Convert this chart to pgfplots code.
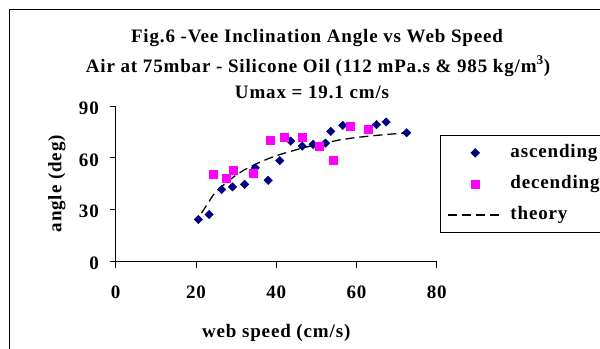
\documentclass[border=0pt]{standalone}
\usepackage{fontspec}
\setmainfont[LetterSpace=4.5]{Liberation Serif}
\usepackage{pgfplots}
\pgfplotsset{compat=1.18}
\definecolor{navy}{RGB}{0,0,128}
\definecolor{mag}{RGB}{255,0,255}
\begin{document}
\begin{tikzpicture}[x=1bp,y=1bp]
\useasboundingbox (0,0) rectangle (600,348);
\fill[white] (0,0) rectangle (600,348);
\draw[line width=1bp] (9,-20) -- (9,338) -- (620,338);
\begin{axis}[
  at={(115.7bp,86.5bp)}, anchor=south west,
  scale only axis, width=321bp, height=155.5bp,
  xmin=0, xmax=80, ymin=0, ymax=90,
  xtick={0,20,40,60,80}, ytick={0,30,60,90},
  axis x line*=bottom, axis y line*=left,
  axis line style={black, line width=0.8bp},
  tick align=outside, major tick length=6bp,
  tick style={black, line width=0.8bp},
  /pgf/number format/assume math mode=true,
  ticklabel style={font=\fontsize{19bp}{23bp}\selectfont\bfseries, inner sep=0pt},
  xticklabel style={anchor=north, yshift=-18bp},
  yticklabel style={anchor=east, xshift=-10.7bp, yshift=-2bp},
  xlabel={web speed (cm/s)},
  ylabel={angle (deg)},
  label style={font=\fontsize{19bp}{23bp}\selectfont\bfseries},
  xlabel style={at={(axis description cs:0.5,-0.462)}, anchor=center},
  ylabel style={at={(axis description cs:-0.183,0.5)}, anchor=center},
  legend cell align=left,
  legend image code/.code={\draw[mark repeat=2,mark phase=2,#1] plot coordinates {(0bp,0bp) (27.5bp,0bp) (55bp,0bp)};},
  legend style={at={(axis description cs:1.0103,0.8135)}, anchor=north west,
    draw=black, line width=0.8bp, fill=white, inner xsep=6.7bp, inner ysep=8.5bp,
    row sep=13bp, column sep=7bp,
    font=\fontsize{19bp}{23bp}\selectfont\bfseries,
    nodes={inner sep=0pt, text height=14bp, text depth=4bp, text width=110bp, align=left}},
]
\addplot[only marks, mark=square*, mark size=3bp, mark options={rotate=45, fill=navy, draw=navy}, color=navy] coordinates {
(20.6,24.3) (23.3,27.2) (26.4,41.7) (29.1,43.2) (32.1,44.7) (34.8,54.2)
(38.0,47.0) (40.9,58.4) (43.6,69.7) (46.5,66.8) (49.2,67.8) (52.3,68.5)
(53.6,75.3) (56.6,78.8) (65.0,79.2) (67.4,80.7) (72.5,74.5)
};
\addlegendentry{ascending}
\addplot[only marks, mark=square*, mark size=4bp, mark options={fill=mag, draw=mag}, color=mag] coordinates {
(24.2,50.5) (27.5,48.3) (29.2,52.8) (34.2,51.2) (38.6,70.3) (41.9,71.8)
(46.4,71.8) (50.7,66.5) (54.1,58.7) (58.5,78.2) (62.9,76.8)
};
\addlegendentry{decending}
\addplot[black, line width=1.3bp, dash pattern=on 9bp off 5bp] coordinates {
(21.4,28) (22.5,32) (24.3,38.5) (26,42.5) (28,46.5) (30,50) (32,53)
(35,56.5) (38,59.5) (41,62) (44,64) (47,66) (50,67.5) (53,69) (56,70.5)
(60,71.8) (65,73) (70,74) (72.5,74.5)
};
\addlegendentry{theory}
\end{axis}
\begin{scope}[font=\fontsize{19bp}{23bp}\selectfont\bfseries]
\node[anchor=base, inner sep=0pt] at (317,306) {Fig.6 -Vee Inclination Angle vs Web Speed};
\node[anchor=base, inner sep=0pt] at (318,276) {Air at 75mbar - Silicone Oil (112 mPa.s \& 985 kg/m\textsuperscript{3})};
\node[anchor=base, inner sep=0pt] at (312,250) {Umax = 19.1 cm/s};
\end{scope}
\end{tikzpicture}
\end{document}
